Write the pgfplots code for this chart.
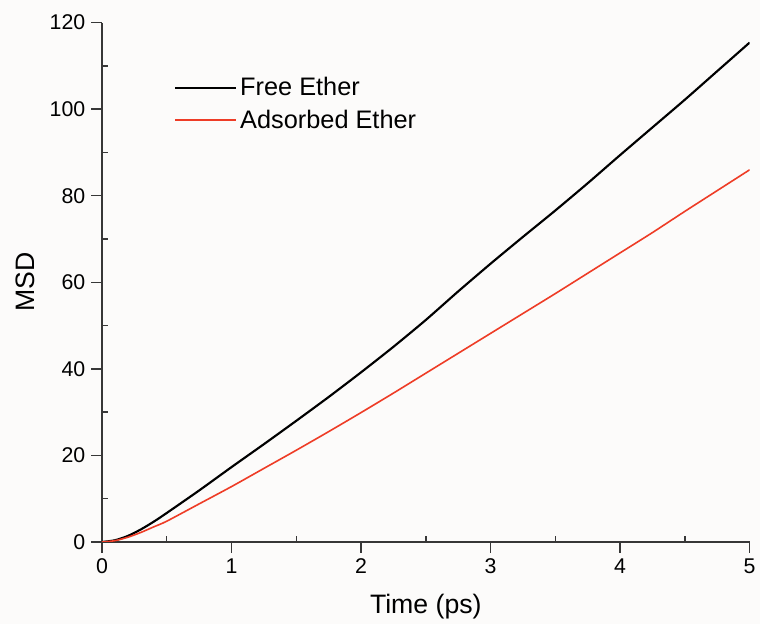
\documentclass[border=0pt]{standalone}
\usepackage{pgfplots}
\pgfplotsset{compat=1.18}
\usepackage{fontspec}
\setmainfont{Liberation Sans}
\usetikzlibrary{backgrounds}
\definecolor{bg}{RGB}{252,251,250}
\definecolor{axgray}{RGB}{55,55,55}
\definecolor{myred}{RGB}{238,60,38}
\begin{document}
\begin{tikzpicture}
\begin{axis}[
  scale only axis,
  width=486pt, height=389.7pt,
  xmin=0, xmax=5, ymin=0, ymax=120,
  axis x line=bottom, axis y line=left,
  axis line style={-, axgray, line width=1.1pt},
  xtick={0,1,2,3,4,5},
  ytick={0,20,40,60,80,100,120},
  minor xtick={0.5,1.5,2.5,3.5,4.5},
  minor ytick={10,30,50,70,90,110},
  tick align=outside,
  major tick length=8pt,
  minor tick length=-4.5pt,
  tick style={axgray, line width=1.1pt},
  /pgf/number format/assume math mode=true,
  ticklabel style={font=\fontsize{16}{19}\selectfont},
  xticklabel style={yshift=-1pt},
  yticklabel style={xshift=-1pt},
  xlabel={Time (ps)},
  ylabel={MSD},
  label style={font=\fontsize{20}{24}\selectfont},
  xlabel style={at={(axis description cs:0.5,-0.1245)}, anchor=center},
  ylabel style={at={(axis description cs:-0.1188,0.501)}, anchor=center, rotate=0},
  legend style={draw=none, fill=none, at={(axis description cs:0.111,0.9)}, anchor=north west,
    font=\fontsize{19}{23}\selectfont, row sep=5pt, inner sep=0pt},
  legend cell align=left,
  legend image code/.code={\draw[#1] (0pt,0pt) -- (46pt,0pt);},
]
\addplot[black, line width=1.6pt, smooth, tension=0.4] coordinates {
(0,0) (0.1,0.4) (0.2,1.4) (0.3,2.9) (0.4,4.7) (0.5,6.7) (0.75,11.9) (1,17.3)
(1.25,22.6) (1.5,28.0) (1.75,33.5) (2,39.2) (2.25,45.1) (2.5,51.3) (2.75,57.9)
(3,64.3) (3.25,70.5) (3.5,76.6) (3.75,82.9) (4,89.4) (4.25,95.8) (4.5,102.2)
(4.75,108.8) (5,115.4)};
\addlegendentry{Free Ether}
\addplot[myred, line width=1.2pt, smooth, tension=0.4] coordinates {
(0,0) (0.1,0.3) (0.2,1.1) (0.3,2.2) (0.4,3.5) (0.5,4.8) (0.75,8.8) (1,12.8)
(1.25,17.0) (1.5,21.2) (1.75,25.5) (2,29.9) (2.25,34.4) (2.5,39.0) (2.75,43.6)
(3,48.2) (3.25,52.8) (3.5,57.4) (3.75,62.1) (4,66.8) (4.25,71.5) (4.5,76.4)
(4.75,81.2) (5,86.0)};
\addlegendentry{Adsorbed Ether}
\end{axis}
\begin{scope}[on background layer]
\fill[bg] ([shift={(-76.5pt,-61.3pt)}]current axis.south west) rectangle ([shift={(7.5pt,17pt)}]current axis.north east);
\end{scope}
\path[use as bounding box] ([shift={(-76.5pt,-61.3pt)}]current axis.south west) rectangle ([shift={(7.5pt,17pt)}]current axis.north east);
\end{tikzpicture}
\end{document}
